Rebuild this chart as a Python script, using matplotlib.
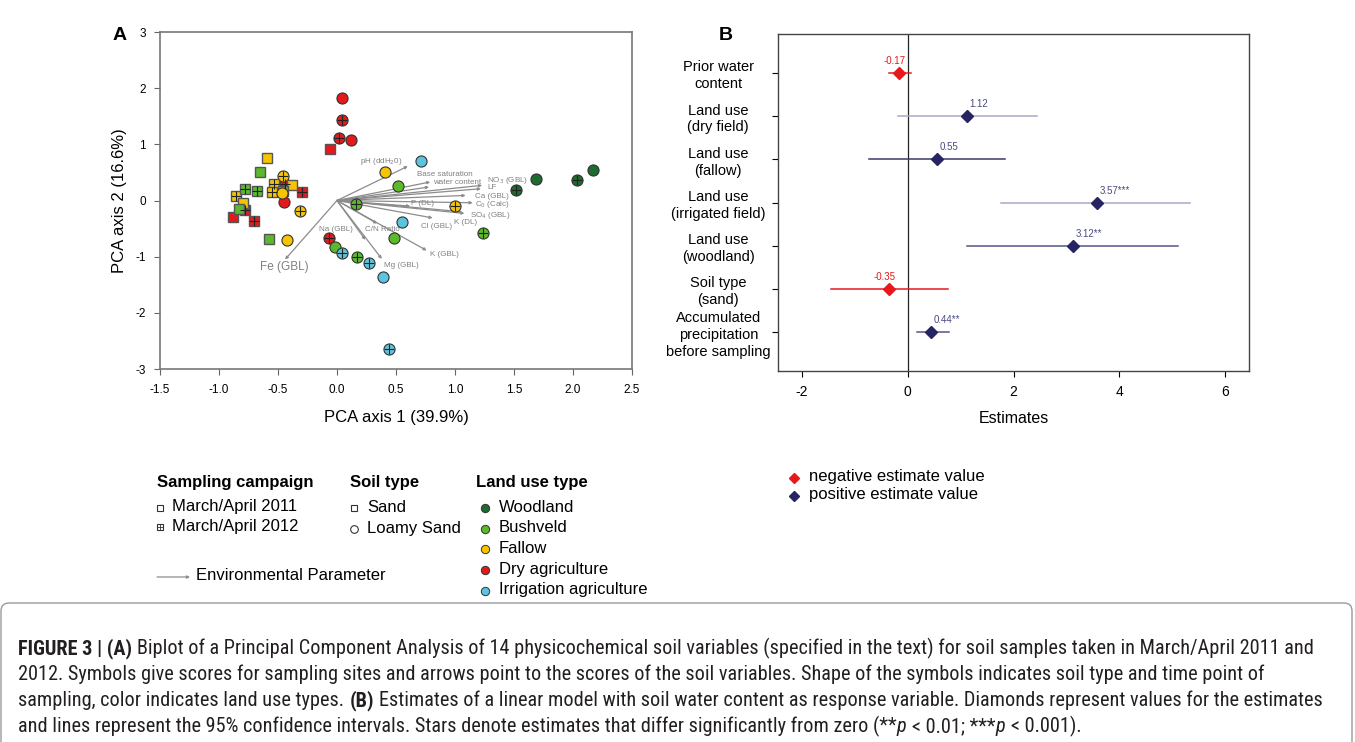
import numpy as np
import matplotlib
matplotlib.use("Agg")
import matplotlib.pyplot as plt
from matplotlib import font_manager as fm
from matplotlib.patches import FancyBboxPatch

plt.rcParams['font.family'] = ['Liberation Sans', 'DejaVu Sans']
plt.rcParams['axes.unicode_minus'] = False

# ---- panel A: PCA site scores ----
pc1 = [0.04, 0.04, 0.02, 0.12, -0.06, -0.44, -0.30, -0.78, -0.45, -0.88, -0.70, -0.07,
       -0.59, -0.46, -0.53, -0.38, -0.55, -0.86, -0.80, -0.31, -0.42, 0.41, 1.00,
       -0.65, -0.78, -0.68, -0.46, -0.83, -0.58, 0.16, 0.52, -0.02, 0.17, 0.48, 1.24,
       1.52, 1.69, 2.03, 2.17,
       0.71, 0.55, 0.04, 0.27, 0.39, 0.44, -0.47]
pc2 = [1.82, 1.43, 1.12, 1.07, 0.92, 0.29, 0.16, -0.17, -0.03, -0.30, -0.37, -0.67,
       0.75, 0.44, 0.29, 0.28, 0.15, 0.08, -0.05, -0.19, -0.70, 0.50, -0.09,
       0.50, 0.21, 0.17, 0.17, -0.16, -0.69, -0.06, 0.25, -0.83, -1.01, -0.66, -0.58,
       0.18, 0.38, 0.36, 0.55,
       0.70, -0.38, -0.94, -1.12, -1.36, -2.65, 0.13]
land = (['dry'] * 12 + ['fallow'] * 11 + ['bush'] * 12 + ['wood'] * 4 + ['irr'] * 6
        + ['fallow'])
soil = ['loamy', 'loamy', 'loamy', 'loamy', 'sand', 'loamy', 'sand', 'sand', 'loamy', 'sand', 'sand', 'loamy',
        'sand', 'loamy', 'sand', 'sand', 'sand', 'sand', 'sand', 'loamy', 'loamy', 'loamy', 'loamy',
        'sand', 'sand', 'sand', 'sand', 'sand', 'sand', 'loamy', 'loamy', 'loamy', 'loamy', 'loamy', 'loamy',
        'loamy', 'loamy', 'loamy', 'loamy',
        'loamy', 'loamy', 'loamy', 'loamy', 'loamy', 'loamy', 'loamy']
year = [2011, 2012, 2012, 2011, 2011, 2012, 2012, 2012, 2011, 2011, 2012, 2012,
        2011, 2012, 2012, 2011, 2012, 2012, 2011, 2012, 2011, 2011, 2012,
        2011, 2012, 2012, 2011, 2011, 2011, 2012, 2011, 2011, 2012, 2011, 2012,
        2012, 2011, 2012, 2011,
        2011, 2011, 2012, 2012, 2011, 2012, 2011]

land_colors = {'wood': '#1d6b2e', 'bush': '#5cb82c', 'fallow': '#f7c500',
               'dry': '#e3191c', 'irr': '#5ec3dc'}

# environmental parameter arrows (biplot loadings)
var_names = ['pH (ddH$_2$0)', 'Base saturation', 'water content', 'NO$_3$ (GBL)', 'LF',
             'Ca (GBL)', 'C$_0$ (Calc)', 'SO$_4$ (GBL)', 'K (DL)', 'P (DL)', 'Cl (GBL)',
             'K (GBL)', 'Mg (GBL)', 'C/N Ratio', 'Na (GBL)', 'Fe (GBL)']
var_x = [0.60, 0.79, 0.78, 1.23, 1.22, 1.09, 1.15, 1.08, 1.06, 0.62, 0.81, 0.76, 0.38, 0.34, 0.24, -0.44]
var_y = [0.61, 0.33, 0.24, 0.27, 0.21, 0.09, -0.04, -0.23, -0.20, -0.10, -0.31, -0.89, -1.04, -0.41, -0.70, -1.05]
# label offsets (pixels) and alignment
lab_dx = [-5, -13, 4, 5, 6, 9, 2, 6, -8, 1, -12, 3, 2, -12, -12, -25]
lab_dy = [5, 7, 5, 5, 1, -1, -2, -2, -11, 3, -9, -4, -7, -6, 10, -8]
lab_ha = ['right', 'left', 'left', 'left', 'left', 'left', 'left', 'left', 'left', 'left',
          'left', 'left', 'left', 'left', 'right', 'left']

# ---- panel B: linear model estimates ----
terms = ['Prior water\ncontent', 'Land use\n(dry field)', 'Land use\n(fallow)',
         'Land use\n(irrigated field)', 'Land use\n(woodland)', 'Soil type\n(sand)',
         'Accumulated\nprecipitation\nbefore sampling']
estimates = [-0.17, 1.12, 0.55, 3.57, 3.12, -0.35, 0.44]
ci_low = [-0.36, -0.19, -0.73, 1.77, 1.13, -1.45, 0.17]
ci_high = [0.07, 2.45, 1.83, 5.33, 5.10, 0.77, 0.79]
stars = ['', '', '', '***', '**', '', '**']

neg_col = '#e8191c'
pos_col = '#262462'
pos_line = ['#262462', '#a9a8c8', '#3b3a6e', '#a9a8c8', '#56558a', '#262462', '#56558a']

fig = plt.figure(figsize=(13.55, 7.42), dpi=100)

# ================= panel A =================
axA = fig.add_axes([160 / 1355, 1 - 369 / 742, 472 / 1355, 337 / 742])
for i in range(len(var_names)):
    axA.annotate('', xy=(var_x[i], var_y[i]), xytext=(0, 0),
                 arrowprops=dict(arrowstyle='-|>', color='#8c8c8c', lw=0.9,
                                 mutation_scale=4, shrinkA=0, shrinkB=0), zorder=2)
    fs = 8.5 if var_names[i].startswith('Fe') else 5.8
    axA.annotate(var_names[i], xy=(var_x[i], var_y[i]),
                 xytext=(lab_dx[i] * 0.72, lab_dy[i] * 0.72), textcoords='offset points',
                 ha=lab_ha[i], va='center', fontsize=fs, color='#808080', zorder=3)

for x, y, lu, so, yr in zip(pc1, pc2, land, soil, year):
    if so == 'sand':
        axA.plot(x, y, marker='s', ms=7.5, mfc=land_colors[lu], mec='#555555', mew=1.0,
                 ls='none', zorder=4)
        if yr == 2012:
            axA.plot(x, y, marker='+', ms=7.0, mec='#222222', mew=0.8, ls='none', zorder=5)
    else:
        axA.plot(x, y, marker='o', ms=8.0, mfc=land_colors[lu], mec='#333333', mew=0.8,
                 ls='none', zorder=4)
        if yr == 2012:
            axA.plot(x, y, marker='+', ms=7.5, mec='#222222', mew=0.8, ls='none', zorder=5)

axA.set_xlim(-1.5, 2.5)
axA.set_ylim(-3, 3)
axA.set_xticks(np.arange(-1.5, 2.51, 0.5))
axA.set_xticklabels([f'{v:.1f}' for v in np.arange(-1.5, 2.51, 0.5)])
axA.set_yticks(range(-3, 4))
axA.tick_params(labelsize=8.5, length=4, width=0.8, color='#666666')
axA.tick_params(axis='x', pad=7)
axA.tick_params(axis='y', pad=6)
for s in axA.spines.values():
    s.set_color('#777777')
    s.set_linewidth(1.2)
axA.set_xlabel('PCA axis 1 (39.9%)', fontsize=12, labelpad=10)
axA.set_ylabel('PCA axis 2 (16.6%)', fontsize=12, labelpad=6)

# ================= panel B =================
axB = fig.add_axes([778 / 1355, 1 - 371 / 742, 471 / 1355, 337 / 742])
ypos = np.arange(len(terms))[::-1] + 1
axB.axvline(0, color='#222222', lw=0.9, zorder=1)
for i in range(len(terms)):
    neg = estimates[i] < 0
    col = neg_col if neg else pos_col
    lcol = neg_col if neg else pos_line[i]
    axB.plot([ci_low[i], ci_high[i]], [ypos[i], ypos[i]], color=lcol, lw=1.1, zorder=2)
    axB.plot(estimates[i], ypos[i], marker='D', ms=6, color=col, ls='none', zorder=3)
    lab = f'{estimates[i]:.2f}' + stars[i]
    if neg:
        axB.annotate(lab, (estimates[i], ypos[i]), xytext=(-3, 5), textcoords='offset points',
                     ha='center', va='bottom', fontsize=7, color=neg_col)
    else:
        axB.annotate(lab, (estimates[i], ypos[i]), xytext=(2, 5), textcoords='offset points',
                     ha='left', va='bottom', fontsize=7, color='#4a4a80')
axB.set_xlim(-2.45, 6.45)
axB.set_ylim(0.1, 7.9)
axB.set_xticks([-2, 0, 2, 4, 6])
axB.set_yticks(ypos)
axB.set_yticklabels(terms, ha='center', multialignment='center', linespacing=1.25)
axB.tick_params(axis='y', labelsize=10.5, length=4, width=0.8, pad=39)
axB.tick_params(axis='x', labelsize=10, length=4, width=0.8, pad=6)
for s in axB.spines.values():
    s.set_color('#444444')
    s.set_linewidth(1.0)
axB.set_xlabel('Estimates', fontsize=11.5, labelpad=9)

# ================= overlay in pixel coords (legends, caption) =================
ov = fig.add_axes([0, 0, 1, 1])
ov.set_xlim(0, 1355)
ov.set_ylim(742, 0)
ov.axis('off')
ov.patch.set_alpha(0)

ov.text(120, 36, 'A', fontsize=14, fontweight='bold', ha='center', va='center')
ov.text(726, 36, 'B', fontsize=14, fontweight='bold', ha='center', va='center')

lfs = 12
# sampling campaign
ov.text(157, 483, 'Sampling campaign', fontsize=lfs, fontweight='bold', va='center')
ov.plot(160, 508, marker='s', ms=5, mfc='white', mec='#333333', mew=0.8)
ov.text(172, 507, 'March/April 2011', fontsize=lfs, va='center')
ov.plot(160, 527, marker='s', ms=5, mfc='white', mec='#333333', mew=0.8)
ov.plot(160, 527, marker='+', ms=5, mec='#333333', mew=0.6)
ov.text(172, 526, 'March/April 2012', fontsize=lfs, va='center')
# soil type
ov.text(350, 483, 'Soil type', fontsize=lfs, fontweight='bold', va='center')
ov.plot(354, 508, marker='s', ms=5, mfc='white', mec='#333333', mew=0.8)
ov.text(367, 507, 'Sand', fontsize=lfs, va='center')
ov.plot(354, 529, marker='o', ms=5.5, mfc='white', mec='#333333', mew=0.8)
ov.text(367, 528, 'Loamy Sand', fontsize=lfs, va='center')
# land use
ov.text(476, 483, 'Land use type', fontsize=lfs, fontweight='bold', va='center')
land_names = ['Woodland', 'Bushveld', 'Fallow', 'Dry agriculture', 'Irrigation agriculture']
land_keys = ['wood', 'bush', 'fallow', 'dry', 'irr']
for k, (nm, key) in enumerate(zip(land_names, land_keys)):
    yy = 508 + k * 20.7
    ov.plot(485, yy, marker='o', ms=6, mfc=land_colors[key], mec='#333333', mew=0.7)
    ov.text(499, yy - 1, nm, fontsize=lfs, va='center')
# environmental parameter
ov.annotate('', xy=(190, 577), xytext=(157, 577),
            arrowprops=dict(arrowstyle='-|>', color='#8c8c8c', lw=0.9, mutation_scale=4,
                            shrinkA=0, shrinkB=0))
ov.text(196, 576, 'Environmental Parameter', fontsize=lfs, va='center')
# panel B legend
ov.plot(794, 478, marker='D', ms=5, color=neg_col)
ov.text(809, 477, 'negative estimate value', fontsize=lfs, va='center')
ov.plot(794, 496, marker='D', ms=5, color=pos_col)
ov.text(809, 495, 'positive estimate value', fontsize=lfs, va='center')

# caption frame
ov.add_patch(FancyBboxPatch((1, 603), 1351, 170, boxstyle='round,pad=0,rounding_size=8',
                            fc='none', ec='#9a9a9a', lw=1.0))

# ---- caption ----
narrow = ['Liberation Sans Narrow', 'Arial Narrow', 'Roboto Condensed', 'Open Sans Condensed',
          'Noto Sans Condensed', 'DejaVu Sans Condensed']
cap_kw = None
for f in fm.fontManager.ttflist:
    if f.name in narrow:
        cap_kw = dict(family=f.name)
        break
if cap_kw is None:
    for f in fm.fontManager.ttflist:
        if f.name in ('Noto Sans', 'Open Sans', 'Roboto', 'DejaVu Sans') and 'condensed' in str(f.stretch):
            cap_kw = dict(family=f.name, fontstretch='condensed')
            break
if cap_kw is None:
    cap_kw = dict(family='Liberation Sans')

r = fig.canvas.get_renderer()
N, B, I = 'normal', 'bold', 'italic'
lines = [
    [('FIGURE 3 | (A) ', B, N),
     ('Biplot of a Principal Component Analysis of 14 physicochemical soil variables '
      '(specified in the text) for soil samples taken in March/April 2011 and', N, N)],
    [('2012. Symbols give scores for sampling sites and arrows point to the scores of the '
      'soil variables. Shape of the symbols indicates soil type and time point of', N, N)],
    [('sampling, color indicates land use types. ', N, N), ('(B) ', B, N),
     ('Estimates of a linear model with soil water content as response variable. '
      'Diamonds represent values for the estimates', N, N)],
    [('and lines represent the 95% confidence intervals. Stars denote estimates that '
      'differ significantly from zero (**', N, N), ('p', N, I), (' < 0.01; ***', N, N),
     ('p', N, I), (' < 0.001).', N, N)],
]


def rich_line(x, y, parts, fs, keep=True):
    x0 = x
    gap = fs * 1.389 * 0.27
    made = []
    for txt, wt, st in parts:
        if txt.startswith(' '):
            x += gap
        t = ov.text(x, y, txt.strip(), fontsize=fs, fontweight=wt, style=st,
                    color='#231f20', va='baseline', ha='left', **cap_kw)
        made.append(t)
        x += t.get_window_extent(renderer=r).width
        if txt.endswith(' '):
            x += gap
    if not keep:
        for t in made:
            t.remove()
    return x - x0


w = rich_line(18, 654, lines[0], 12, keep=False)
cfs = 12 * 1292 / w
for k, parts in enumerate(lines):
    rich_line(18, 654 + 26 * k, parts, cfs)

fig.savefig('out.png', dpi=100)
